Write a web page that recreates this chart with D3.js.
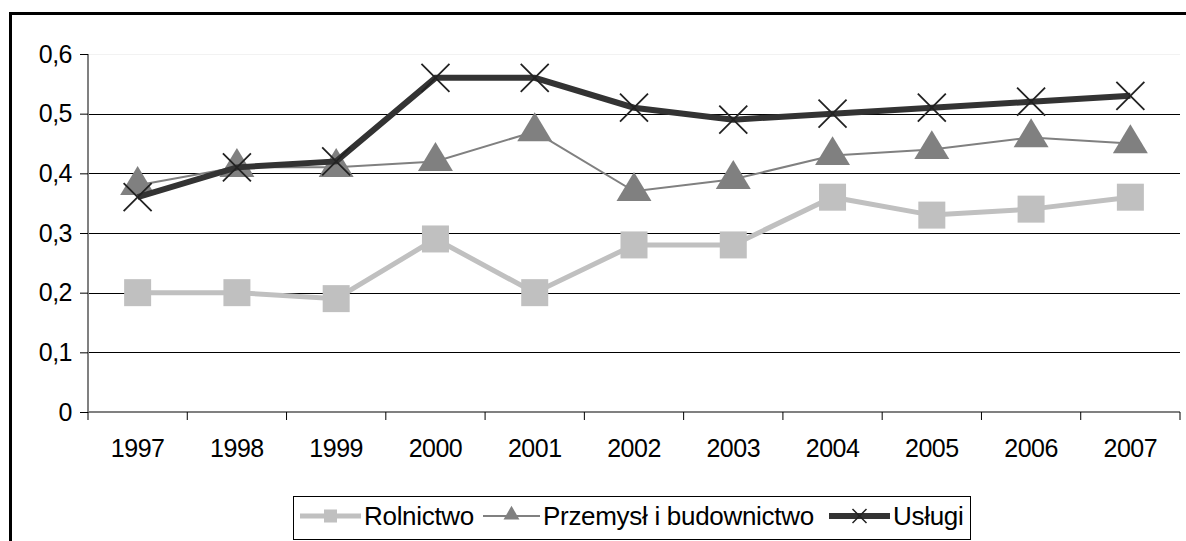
<!DOCTYPE html>
<html>
	<head>
		<meta charset="utf-8">
		<title>Line Chart</title>
	</head>
	<body>
	</body>
</html>
<script src="https://d3js.org/d3.v7.min.js"></script>
<style>
html,body{
	margin: 0;
	padding: 0;
	background: #fff;
}
text{
	font-family: "Liberation Sans", Arial, sans-serif;
}
</style>
<script>
	var years=["1997","1998","1999","2000","2001","2002","2003","2004","2005","2006","2007"];
	var rolnictwo=[0.20,0.20,0.19,0.29,0.20,0.28,0.28,0.36,0.33,0.34,0.36];
	var przemysl=[0.38,0.41,0.41,0.42,0.47,0.37,0.39,0.43,0.44,0.46,0.45];
	var uslugi=[0.36,0.41,0.42,0.56,0.56,0.51,0.49,0.50,0.51,0.52,0.53];
	var yTicks=[0,0.1,0.2,0.3,0.4,0.5,0.6];
	var seriesNames=["Rolnictwo","Przemysł i budownictwo","Usługi"];

	var W=1186,H=541;
	var pLeft=88,pRight=1180,pTop=54,pBottom=412;

	var svg=d3.select("body")
	.append("svg")
	.attr("width",W)
	.attr("height",H)
	.style("display","block");

	// outer frame
	svg.append("rect")
	.attr("x",10.5)
	.attr("y",13.5)
	.attr("width",1190)
	.attr("height",560)
	.attr("fill","none")
	.attr("stroke","#000")
	.attr("stroke-width",3);

	var scaleX=d3.scaleBand()
	.domain(years)
	.range([pLeft,pRight]);

	var scaleY=d3.scaleLinear()
	.domain([0,0.6])
	.range([pBottom,pTop]);

	// gridlines
	svg.selectAll("line.grid")
	.data(yTicks.slice(1))
	.enter()
	.append("line")
	.attr("class","grid")
	.attr("x1",pLeft)
	.attr("x2",pRight)
	.attr("y1",d=>Math.round(scaleY(d))+0.5)
	.attr("y2",d=>Math.round(scaleY(d))+0.5)
	.attr("stroke",d=>d===0.6?"#f2f2f2":"#000")
	.attr("stroke-width",1);

	var fmt=d=>d===0?"0":d3.format(".1f")(d).replace(".",",");

	var yAxis=d3.axisLeft(scaleY)
	.tickValues(yTicks)
	.tickFormat(fmt)
	.tickSize(8)
	.tickPadding(8);

	var gy=svg.append("g")
	.attr("transform","translate("+pLeft+",0)")
	.call(yAxis);
	gy.select(".domain").attr("stroke","#808080").attr("stroke-width",2).attr("d","M0,"+pTop+"V"+pBottom);
	gy.selectAll(".tick line").attr("stroke","#000");
	gy.selectAll("text").attr("font-size",25).attr("fill","#000").style("font-family","Liberation Sans").attr("letter-spacing","-0.5");

	var xAxis=d3.axisBottom(scaleX)
	.tickSize(0)
	.tickPadding(27);

	var gx=svg.append("g")
	.attr("transform","translate(0,"+pBottom+")")
	.call(xAxis);
	gx.select(".domain").attr("stroke","#808080").attr("stroke-width",2).attr("d","M"+pLeft+",0H"+pRight);
	gx.selectAll("text").attr("font-size",25).attr("fill","#000").style("font-family","Liberation Sans").attr("letter-spacing","-0.5");

	// category boundary ticks
	gx.selectAll("line.sep")
	.data(years.concat(["end"]))
	.enter()
	.append("line")
	.attr("class","sep")
	.attr("x1",(d,i)=>pLeft+i*scaleX.step())
	.attr("x2",(d,i)=>pLeft+i*scaleX.step())
	.attr("y1",0)
	.attr("y2",8)
	.attr("stroke","#000");

	var cx=d=>scaleX(d)+scaleX.bandwidth()/2;
	var line=d3.line()
	.x((d,i)=>cx(years[i]))
	.y(d=>scaleY(d));

	// Rolnictwo
	svg.append("path")
	.datum(rolnictwo)
	.attr("d",line)
	.attr("fill","none")
	.attr("stroke","#c0c0c0")
	.attr("stroke-width",5);
	svg.selectAll("rect.rol")
	.data(rolnictwo)
	.enter()
	.append("rect")
	.attr("class","rol")
	.attr("x",(d,i)=>cx(years[i])-13.5)
	.attr("y",d=>scaleY(d)-13.5)
	.attr("width",27)
	.attr("height",27)
	.attr("fill","#c0c0c0");

	// Przemysł i budownictwo
	svg.append("path")
	.datum(przemysl)
	.attr("d",line)
	.attr("fill","none")
	.attr("stroke","#808080")
	.attr("stroke-width",2);
	var tri=d3.symbol().type(d3.symbolTriangle).size(400);
	svg.selectAll("path.prz")
	.data(przemysl)
	.enter()
	.append("path")
	.attr("class","prz")
	.attr("d",tri)
	.attr("transform",(d,i)=>"translate("+cx(years[i])+","+scaleY(d)+") scale(1.15,1.1)")
	.attr("fill","#808080");

	// Usługi
	svg.append("path")
	.datum(uslugi)
	.attr("d",line)
	.attr("fill","none")
	.attr("stroke","#333333")
	.attr("stroke-width",6);
	svg.selectAll("path.usl")
	.data(uslugi)
	.enter()
	.append("path")
	.attr("class","usl")
	.attr("d","M-14,-14L14,14M-14,14L14,-14")
	.attr("transform",(d,i)=>"translate("+cx(years[i])+","+scaleY(d)+")")
	.attr("fill","none")
	.attr("stroke","#222")
	.attr("stroke-width",1.8);

	// legend
	var lg=svg.append("g");
	lg.append("rect")
	.attr("x",293.5)
	.attr("y",496.5)
	.attr("width",677)
	.attr("height",43)
	.attr("fill","#fff")
	.attr("stroke","#000")
	.attr("stroke-width",1);

	var ly=516;
	var items=[
		{name:seriesNames[0],x:300,len:61,color:"#c0c0c0",w:5,mark:"sq"},
		{name:seriesNames[1],x:483,len:57,color:"#808080",w:2,mark:"tri"},
		{name:seriesNames[2],x:829,len:61,color:"#333333",w:6,mark:"x"}
	];
	items.forEach(function(it){
		lg.append("line")
		.attr("x1",it.x)
		.attr("x2",it.x+it.len)
		.attr("y1",ly)
		.attr("y2",ly)
		.attr("stroke",it.color)
		.attr("stroke-width",it.w);
		var mx=it.x+it.len/2;
		if(it.mark==="sq"){
			lg.append("rect").attr("x",mx-6.5).attr("y",ly-6.5).attr("width",13).attr("height",13).attr("fill",it.color);
		}else if(it.mark==="tri"){
			lg.append("path").attr("d",d3.symbol().type(d3.symbolTriangle).size(110)).attr("transform","translate("+mx+","+(ly-1)+")").attr("fill",it.color);
		}else{
			lg.append("path").attr("d","M-7,-7L7,7M-7,7L7,-7").attr("transform","translate("+mx+","+ly+")").attr("stroke","#222").attr("stroke-width",1.5);
		}
		lg.append("text")
		.attr("x",it.x+it.len+3)
		.attr("y",ly+9)
		.attr("font-size",26)
		.attr("letter-spacing","-0.3")
		.attr("fill","#000")
		.text(it.name);
	});
</script>
